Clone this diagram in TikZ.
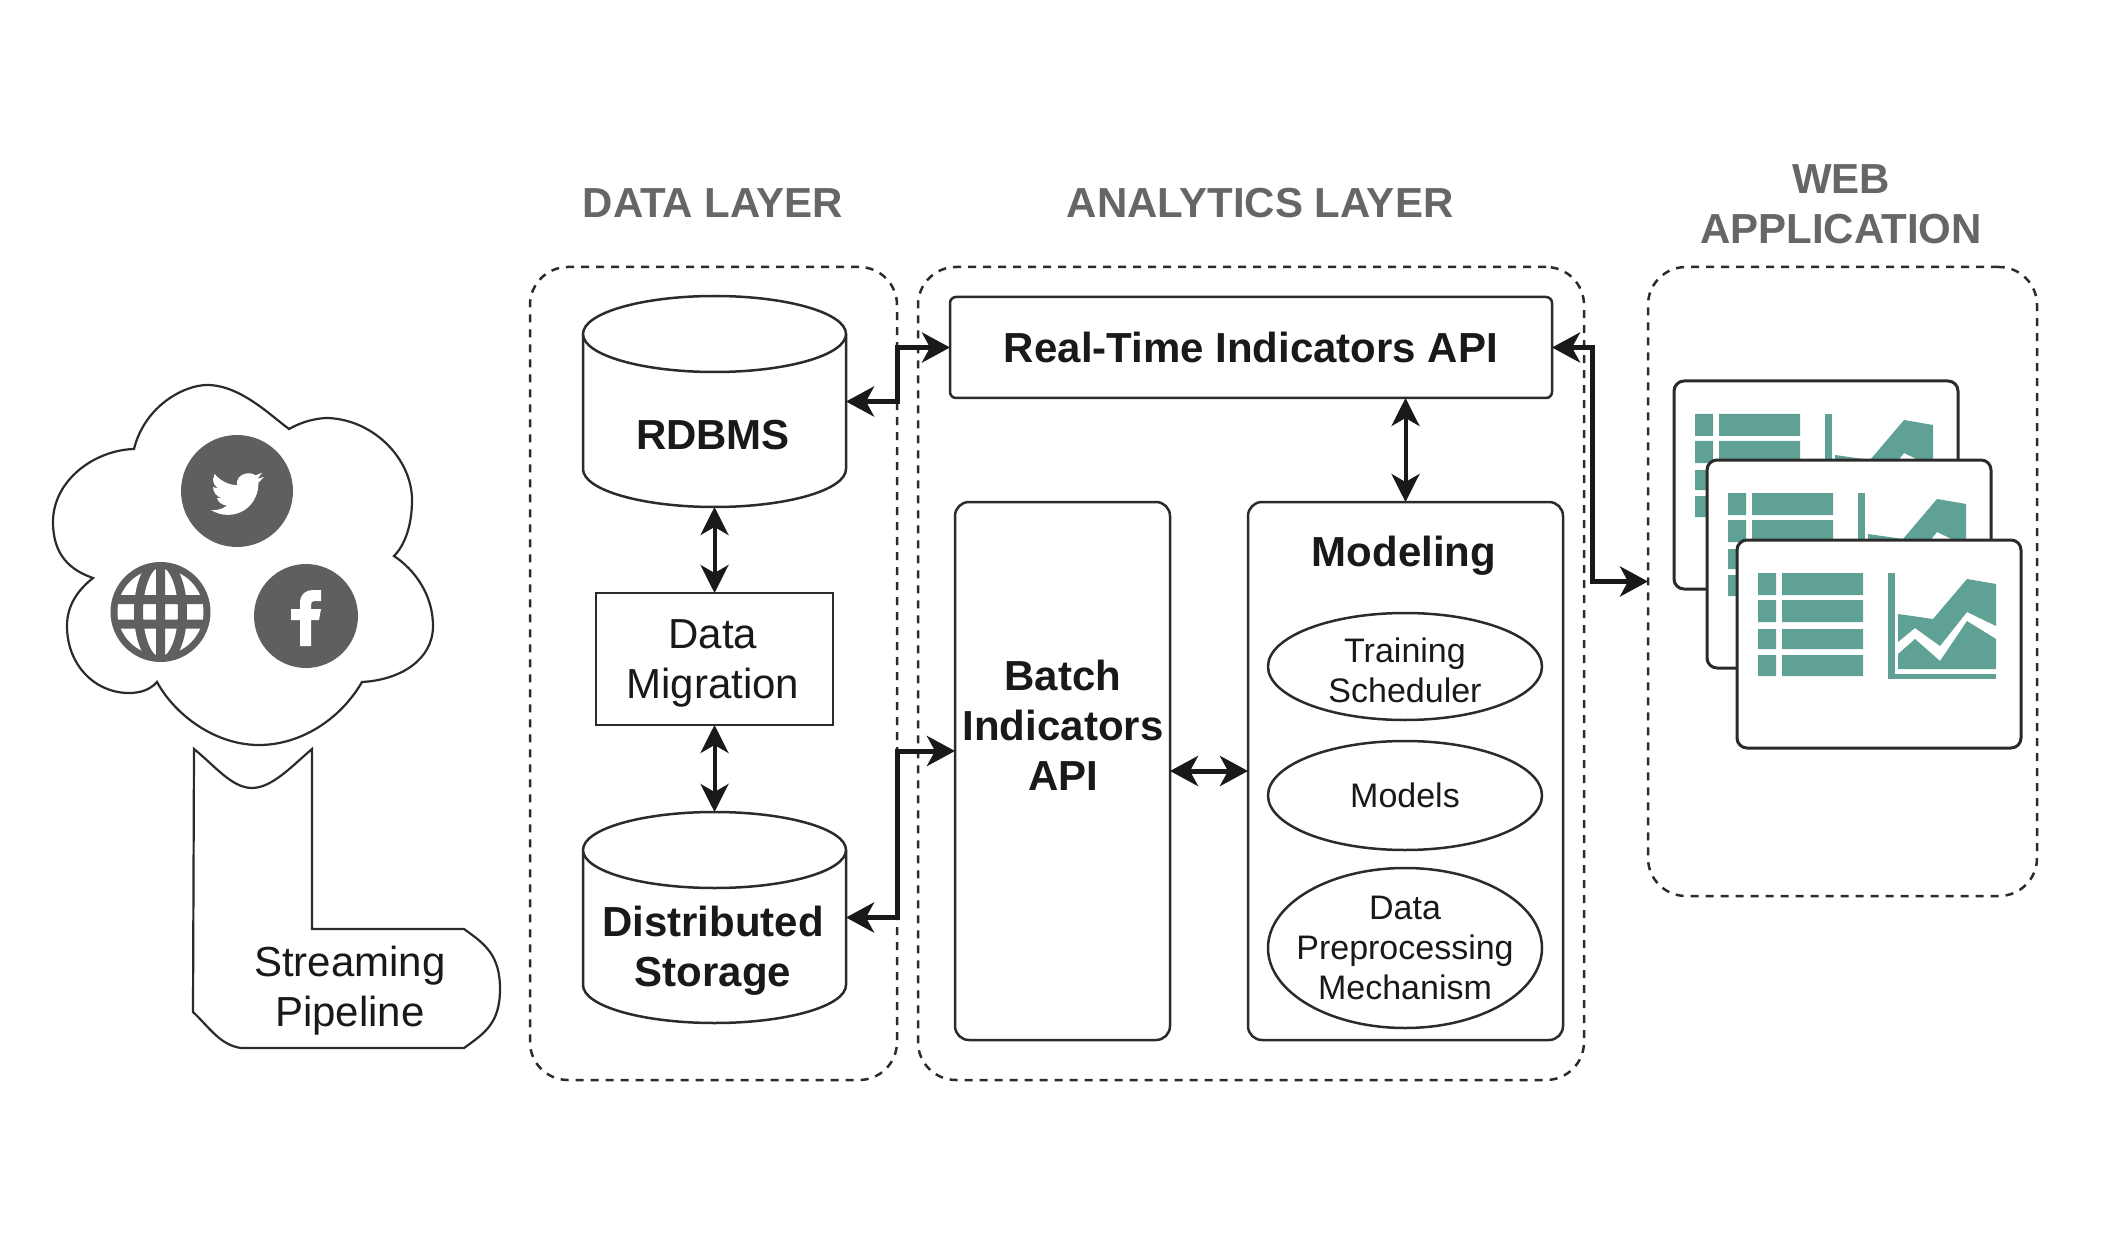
\documentclass[tikz,border=0pt]{standalone}
\usepackage{fontspec}
\setmainfont{Liberation Sans}
\usetikzlibrary{arrows.meta,shapes.geometric}
\definecolor{ink}{HTML}{2B2B2B}
\definecolor{titlegray}{HTML}{666666}
\definecolor{icongray}{HTML}{5F5F5F}
\definecolor{teal}{HTML}{5FA295}
\newcommand{\bigfont}{\fontsize{42}{50}\selectfont}
\newcommand{\smallfont}{\fontsize{34}{40}\selectfont}
\tikzset{
  every node/.style={inner sep=0pt,outer sep=0pt,align=center,text=black!90},
  layerbox/.style={draw=ink,line width=2.5pt,dash pattern=on 8pt off 7pt,rounded corners=38pt},
  solidbox/.style={draw=ink,line width=2.5pt,fill=white,rounded corners=#1},
  solidbox/.default=6pt,
  ovalnode/.style={draw=ink,line width=2.5pt,shape=ellipse,font=\smallfont,minimum width=274pt,inner sep=-60pt},
  title/.style={font=\bigfont\bfseries,text=titlegray},
  boldtext/.style={font=\bigfont\bfseries},
  plaintext/.style={font=\bigfont},
  link/.style={draw=black!90,line width=5pt,{Stealth[length=28pt,width=30pt,inset=8pt]}-{Stealth[length=28pt,width=30pt,inset=8pt]}},
  linkthin/.style={draw=black!90,line width=4pt,{Stealth[length=28pt,width=28pt,inset=8pt]}-{Stealth[length=28pt,width=28pt,inset=8pt]}},
  pics/cylshape/.style={code={
    \draw[draw=ink,line width=2.5pt,fill=white] (0,38) -- (0,173) .. controls (0,194) and (59,211) .. (131.5,211) .. controls (204,211) and (263,194) .. (263,173) -- (263,38);
    \draw[draw=ink,line width=2.5pt,fill=white] (0,38) .. controls (0,17) and (59,0) .. (131.5,0) .. controls (204,0) and (263,17) .. (263,38) .. controls (263,59) and (204,76) .. (131.5,76) .. controls (59,76) and (0,59) .. (0,38) -- cycle;
  }},
  pics/webcard/.style={code={
    \draw[draw=ink,line width=3pt,fill=white,rounded corners=10pt] (0,0) rectangle (284,208);
    \fill[teal] (21,33) rectangle (39,55) (45,33) rectangle (126,55)
                (21,60) rectangle (39,82) (45,60) rectangle (126,82)
                (21,89) rectangle (39,109) (45,89) rectangle (126,109)
                (21,115) rectangle (39,136) (45,115) rectangle (126,136);
    \fill[teal] (151,33) rectangle (158,139);
    \fill[teal] (151,134) rectangle (259,139);
    \fill[teal] (161,74) -- (196,79) -- (230,39) -- (259,44) -- (259,86) -- (230,72) -- (203,106) -- (178,88) -- (161,102) -- cycle;
    \fill[teal] (161,114) -- (178,99) -- (203,121) -- (230,81) -- (259,99) -- (259,129) -- (161,129) -- cycle;
  }}
}
\begin{document}
\begin{tikzpicture}[x=1pt,y=-1pt]
\useasboundingbox (0,0) rectangle (2121,1246);

% cloud of sources
\draw[draw=ink,line width=2.2pt,fill=white] (134,449) .. controls (145,405) and (185,385) .. (207,385) .. controls (240,385) and (270,415) .. (289,429) .. controls (305,420) and (320,418) .. (328,418) .. controls (375,420) and (412,460) .. (412,500) .. controls (412,525) and (405,545) .. (394,556) .. controls (415,570) and (433,595) .. (433,626) .. controls (433,660) and (400,680) .. (362,682) .. controls (340,720) and (300,745) .. (259,745) .. controls (215,745) and (175,715) .. (157,682) .. controls (150,690) and (140,693) .. (129,693) .. controls (95,693) and (67,665) .. (67,626) .. controls (67,605) and (78,590) .. (93,578) .. controls (70,570) and (53,555) .. (53,522) .. controls (53,480) and (95,450) .. (134,449) -- cycle;

% twitter icon
\fill[icongray] (237,491) circle [radius=56pt];
\begin{scope}[shift={(211,467)},scale=2.2]
\fill[white] (23.95,4.57) -- (21.13,5.35) -- (23.29,2.62) -- (20.16,3.81) .. controls (18.5,2.0) and (11,2.5) .. (11.9,8.3) .. controls (7.69,8.1) and (4.07,6.13) .. (1.64,3.16) -- (0.97,5.64) .. controls (0.97,7.35) and (1.84,8.85) .. (3.16,9.73) -- (0.93,9.12) -- (0.93,9.18) .. controls (0.93,11.5) and (2.6,13.6) .. (4.88,14.0) -- (2.67,14.09) .. controls (3.3,16) and (5.1,17.45) .. (7.27,17.5) .. controls (5.6,18.9) and (3.5,19.6) .. (1.17,19.6) -- (0,19.54) .. controls (2.2,20.9) and (4.8,21.75) .. (7.56,21.75) .. controls (16.6,21.75) and (21.55,14.25) .. (21.55,7.76) -- (21.54,7.13) -- (24,4.59) -- cycle;
\end{scope}

% globe icon
\fill[icongray] (160.5,612) circle [radius=50pt];
\fill[white] (160.5,612) circle [radius=43pt];
\begin{scope}
\clip (160.5,612) circle [radius=44pt];
\draw[icongray,line width=9pt] (110,599.5) -- (211,599.5) (110,624) -- (211,624) (160.5,562) -- (160.5,662)
  (160.5,612) ellipse [x radius=22pt,y radius=50pt];
\end{scope}

% facebook icon
\fill[icongray] (306,616) circle [radius=52pt];
\fill[white] (300,646) -- (300,620) -- (291,620) -- (291,609) -- (300,609) -- (300,603) .. controls (300,594) and (306,590) .. (313,590) -- (321,590) -- (321,601) -- (315,601) .. controls (312,601) and (311,602) .. (311,605) -- (311,609) -- (321,609) -- (319,620) -- (311,620) -- (311,646) -- cycle;

% streaming pipeline shape
\draw[draw=ink,line width=2.2pt,fill=white] (194,749) .. controls (215,766) and (232,788) .. (252,788) .. controls (272,788) and (292,766) .. (312,749) -- (312,929) -- (464,929) .. controls (485,944) and (500,955) .. (500,989) .. controls (500,1023) and (485,1033) .. (464,1048) -- (241,1048) .. controls (220,1045) and (210,1028) .. (193,1012) -- cycle;
\node[plaintext] (stream) at (350,991) {Streaming\\Pipeline};

% layer containers
\node[layerbox,minimum width=367pt,minimum height=813pt] (datalayer) at (713.5,673.5) {};
\node[layerbox,minimum width=666pt,minimum height=813pt] (analytics) at (1251,673.5) {};
\node[layerbox,minimum width=389pt,minimum height=629pt] (weblayer) at (1842.5,581.5) {};

\node[title] (t1) at (713,203) {DATA LAYER};
\node[title] (t2) at (1260,203) {ANALYTICS LAYER};
\node[title] (t3) at (1841,204) {WEB\\APPLICATION};

% data layer
\pic at (583,296) {cylshape};
\pic at (583,812) {cylshape};
\node[minimum width=263pt,minimum height=211pt] (rdbms) at (714.5,401.5) {};
\node[minimum width=263pt,minimum height=211pt] (dist) at (714.5,917.5) {};
\node[boldtext] (rdbmstext) at (713,435) {RDBMS};
\node[boldtext] (disttext) at (713,951) {Distributed\\Storage};
\node[solidbox=0pt,minimum width=237pt,minimum height=132pt] (mig) at (714.5,659) {};
\node[plaintext] (migtext) at (713,663) {Data\\Migration};

% analytics layer
\node[solidbox,minimum width=602pt,minimum height=101pt,boldtext] (rt) at (1251,347.5) {Real-Time Indicators API};
\node[solidbox=14pt,minimum width=215pt,minimum height=538pt] (batch) at (1062.5,771) {};
\node[boldtext] (batchtext) at (1063,725) {Batch\\Indicators\\API};
\node[solidbox=14pt,minimum width=315pt,minimum height=538pt] (model) at (1405.5,771) {};
\node[boldtext] (modeltext) at (1404,556) {Modeling};
\node[ovalnode,minimum height=107pt] (train) at (1405,666.5) {};
\node[font=\smallfont] (traintext) at (1405,670.5) {Training\\Scheduler};
\node[ovalnode,minimum height=109pt] (models) at (1405,795.5) {Models};
\node[ovalnode,minimum height=160pt] (prep) at (1405,948) {Data\\Preprocessing\\Mechanism};

% web cards
\pic at (1674,381) {webcard};
\pic at (1707,460) {webcard};
\pic at (1737,540) {webcard};

% connectors
\draw[linkthin] (rdbms.south) -- (mig.north);
\draw[linkthin] (mig.south) -- (dist.north);
\draw[linkthin] (rt.south -| model.north) -- (model.north);
\draw[link] (batch.east) -- (model.west);
\draw[link] (rdbms.east) -- ++(51,0) |- (rt.west);
\draw[link] (dist.east) -- ++(51,0) |- ([yshift=20pt]batch.west);
\draw[link] (rt.east) -- ++(40,0) |- (weblayer.west);
\end{tikzpicture}
\end{document}
